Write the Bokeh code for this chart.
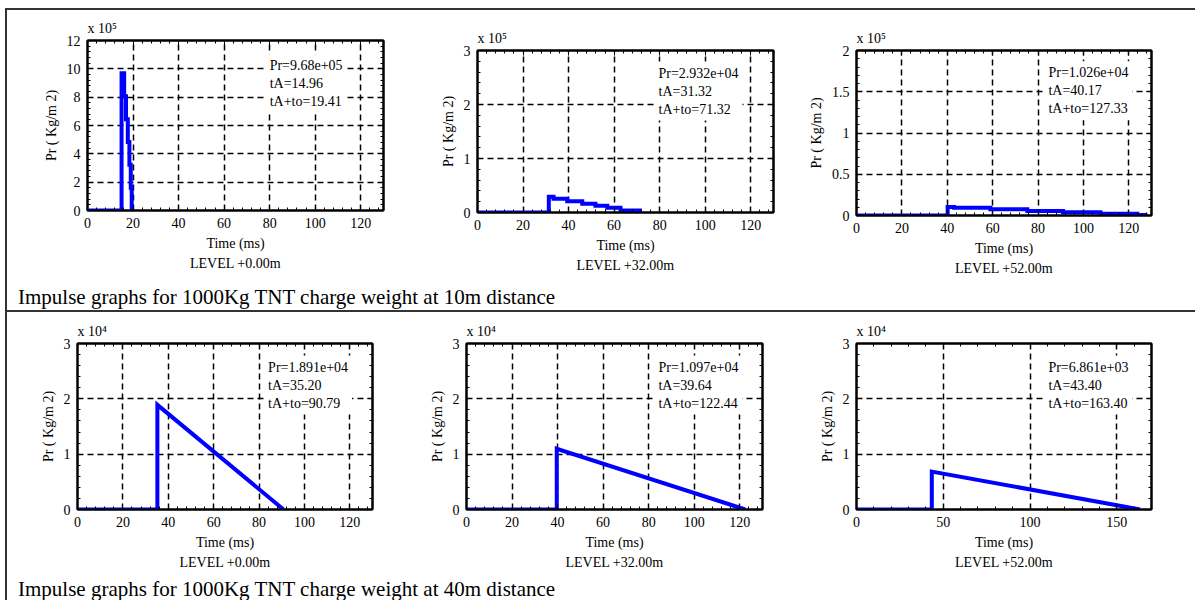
from bokeh.plotting import figure
from bokeh.models import (LinearAxis, Label, Title, FixedTicker, CustomJSTickFormatter, Div, Range1d,
                          CustomLabelingPolicy)
from bokeh.layouts import row, column
from bokeh.embed import file_html
from bokeh.resources import INLINE

FONT = "Liberation Serif"

# ---------------- data (Pr values in units of the axis multiplier) ----------------
captions = ["Impulse graphs for 1000Kg TNT charge weight at 10m distance",
            "Impulse graphs for 1000Kg TNT charge weight at 40m distance"]
levels = ["LEVEL +0.00m", "LEVEL +32.00m", "LEVEL +52.00m"]

# 10 m distance, x 10^5 Kg/m2 (stepped traces)
t_10m_l0 = [0, 14.96, 16.1, 16.9, 17.7, 18.4, 19.0, 19.41]
pr_10m_l0 = [0, 9.68, 8.07, 6.45, 4.84, 3.23, 1.61, 0]
t_10m_l32 = [0, 31.32, 33.4, 39.4, 46.0, 51.8, 57.0, 62.8, 71.32]
pr_10m_l32 = [0, 0.2932, 0.253, 0.21, 0.16, 0.123, 0.086, 0.037, 0]
t_10m_l52 = [0, 40.17, 43.0, 59.0, 75.3, 91.0, 107.5, 123.7, 127.33]
pr_10m_l52 = [0, 0.1026, 0.093, 0.075, 0.056, 0.038, 0.02, 0.005, 0]

# 40 m distance, x 10^4 Kg/m2
t_40m_l0 = [0, 35.20, 35.20, 90.79]
pr_40m_l0 = [0, 0, 1.891, 0]
t_40m_l32 = [0, 39.64, 39.64, 122.44]
pr_40m_l32 = [0, 0, 1.097, 0]
t_40m_l52 = [0, 43.40, 43.40, 163.40]
pr_40m_l52 = [0, 0, 0.6861, 0]

notes = [
    "Pr=9.68e+05\ntA=14.96\ntA+to=19.41",
    "Pr=2.932e+04\ntA=31.32\ntA+to=71.32",
    "Pr=1.026e+04\ntA=40.17\ntA+to=127.33",
    "Pr=1.891e+04\ntA=35.20\ntA+to=90.79",
    "Pr=1.097e+04\ntA=39.64\ntA+to=122.44",
    "Pr=6.861e+03\ntA=43.40\ntA+to=163.40",
]
multipliers = ["x 10\u2075", "x 10\u2075", "x 10\u2075", "x 10\u2074", "x 10\u2074", "x 10\u2074"]
x_ticks_130 = [0, 20, 40, 60, 80, 100, 120]
x_ticks_170 = [0, 50, 100, 150]
y_ticks_12 = [0, 2, 4, 6, 8, 10, 12]
y_ticks_3 = [0, 1, 2, 3]
y_ticks_2 = [0, 0.5, 1, 1.5, 2]

BLUE = "#0000ff"


def ticker(major, n_minor):
    step = major[1] - major[0]
    minor = []
    for i in range(len(major) - 1):
        for k in range(1, n_minor + 1):
            minor.append(major[i] + k * step / (n_minor + 1))
    extra = [major[-1] + k * step / (n_minor + 1) for k in range(1, n_minor + 1)]
    return FixedTicker(ticks=major, minor_ticks=major + minor + extra)


def style_axis(ax):
    ax.major_tick_in = 5
    ax.major_tick_out = 0
    ax.minor_tick_in = 3
    ax.minor_tick_out = 0
    ax.axis_line_width = 2
    ax.axis_line_color = "black"
    ax.major_tick_line_color = "black"
    ax.minor_tick_line_color = "black"
    ax.major_label_text_font = FONT
    ax.major_label_text_color = "black"
    ax.major_label_text_font_size = "14px"
    ax.major_label_standoff = 7
    ax.axis_label_text_font = FONT
    ax.axis_label_text_font_style = "normal"
    ax.axis_label_text_font_size = "14px"
    ax.axis_label_text_color = "black"
    ax.axis_label_standoff = 5


def make_panel(t, pr, stepped, x_end, xt, y_end, yt, mult, note, note_x, note_y, level,
               w, h, bl, br, bt, bb):
    p = figure(width=w, height=h, x_range=Range1d(0, x_end), y_range=Range1d(0, y_end),
               output_backend="svg", toolbar_location=None, title=mult,
               min_border_left=bl, min_border_right=br, min_border_top=bt, min_border_bottom=bb,
               x_axis_label="Time (ms)", y_axis_label="Pr ( Kg/m 2)")
    p.title.align = "left"
    p.title.text_font = FONT
    p.title.text_font_size = "14px"
    p.title.text_font_style = "normal"
    p.title.text_color = "black"
    p.title.standoff = 2
    p.outline_line_color = "black"
    p.outline_line_width = 2
    p.outline_line_alpha = 1
    p.border_fill_color = "white"
    p.background_fill_color = "white"
    fmt = CustomJSTickFormatter(code="return tick.toString();")
    p.xaxis.ticker = ticker(xt, 4)
    p.yaxis.ticker = ticker(yt, 4)
    p.yaxis.formatter = fmt
    p.xaxis.formatter = fmt
    for ax in p.axis:
        style_axis(ax)
    top = LinearAxis(ticker=ticker(xt, 4))
    right = LinearAxis(ticker=ticker(yt, 4))
    for ax in (top, right):
        style_axis(ax)
        ax.major_label_policy = CustomLabelingPolicy(code="for (const i of indices) { indices.unset(i) }")
        ax.major_label_standoff = 0
        ax.major_label_text_font_size = "1px"
    p.add_layout(top, "above")
    p.add_layout(right, "right")
    for g in (p.xgrid, p.ygrid):
        g.grid_line_color = "black"
        g.grid_line_dash = "6 4"
        g.grid_line_width = 1.5
    p.xgrid.ticker = FixedTicker(ticks=xt)
    p.ygrid.ticker = FixedTicker(ticks=yt)
    if stepped:
        p.step(t, pr, mode="after", line_width=4, line_color=BLUE, line_join="miter")
    else:
        p.line(t, pr, line_width=4, line_color=BLUE, line_join="miter")
    p.add_layout(Label(x=note_x, y=note_y, x_offset=-4, y_offset=4, text=note, text_font=FONT,
                       text_font_size="14px", text_baseline="top", text_align="left",
                       text_color="black", text_line_height=1.2,
                       background_fill_color="white", padding=4))
    p.add_layout(Title(text=level, align="center", text_font=FONT, text_font_size="14px",
                       text_font_style="normal", text_color="black", standoff=0), "below")
    return p


f1 = make_panel(t_10m_l0, pr_10m_l0, True, 130, x_ticks_130, 12, y_ticks_12, multipliers[0],
                notes[0], 80, 10.75, levels[0], 423, 270, 80, 47, 30, 70)
f2 = make_panel(t_10m_l32, pr_10m_l32, True, 130, x_ticks_130, 3, y_ticks_3, multipliers[1],
                notes[1], 79.5, 2.72, levels[1], 375, 260, 47, 32, 30, 68)
f3 = make_panel(t_10m_l52, pr_10m_l52, True, 130, x_ticks_130, 2, y_ticks_2, multipliers[2],
                notes[2], 84.6, 1.82, levels[2], 390, 260, 51, 44, 30, 65)
f4 = make_panel(t_40m_l0, pr_40m_l0, False, 130, x_ticks_130, 3, y_ticks_3, multipliers[3],
                notes[3], 84, 2.71, levels[0], 413, 263, 70, 48, 31, 66)
f5 = make_panel(t_40m_l32, pr_40m_l32, False, 130, x_ticks_130, 3, y_ticks_3, multipliers[4],
                notes[4], 84.3, 2.71, levels[1], 385, 263, 46, 43, 31, 66)
f6 = make_panel(t_40m_l52, pr_40m_l52, False, 170, x_ticks_170, 3, y_ticks_3, multipliers[5],
                notes[5], 110.6, 2.71, levels[2], 390, 263, 51, 44, 31, 66)


def line_div(w, h):
    return Div(text="", width=w, height=h, margin=0, styles={"background-color": "#333333"})


def spacer(w, h):
    return Div(text="", width=w, height=h, margin=0)


def caption_div(txt, h, pad_top):
    html = ('<div style="font-family:\'Liberation Serif\';font-size:21px;line-height:21px;'
            'color:black;white-space:nowrap;padding-top:%dpx;padding-left:11px;">%s</div>' % (pad_top, txt))
    return Div(text=html, width=1188, height=h, margin=0)


top_row = row(column(f1, spacing=0),
              column(spacer(375, 10), f2, spacing=0),
              column(spacer(390, 10), f3, spacing=0), spacing=0)
bottom_row = row(f4, f5, f6, spacing=0)

inner = column(line_div(1188, 2), top_row, caption_div(captions[0], 30, 7),
               line_div(1188, 2), bottom_row, caption_div(captions[1], 25, 4),
               spacing=0)
layout = column(spacer(1195, 8),
                row(spacer(5, 592), line_div(2, 592), inner, spacing=0),
                spacing=0)

open("out.html", "w").write(file_html(layout, INLINE))
